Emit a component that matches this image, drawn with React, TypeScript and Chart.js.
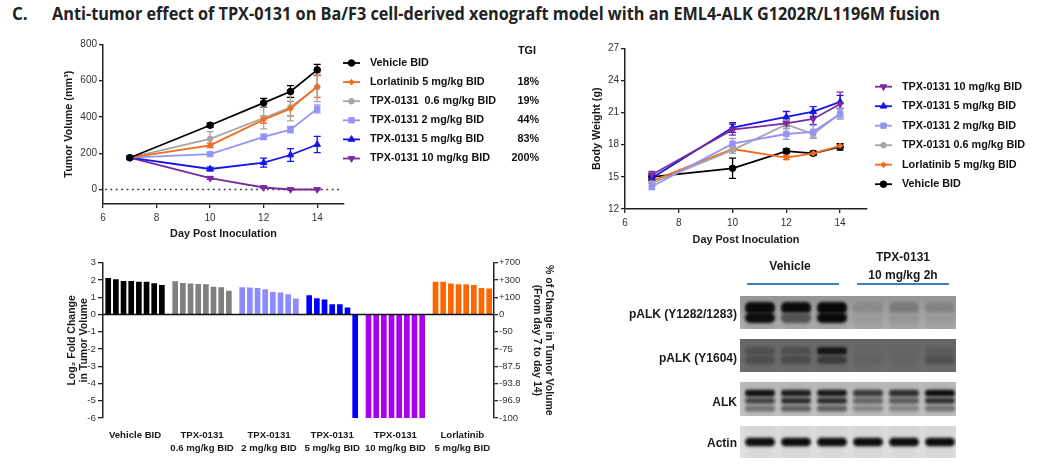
import React, { useEffect, useRef } from 'react';
import { Chart, registerables } from 'chart.js';
import { drawPoint } from 'chart.js/helpers';

Chart.register(...registerables);

const FONT = '"Liberation Sans", Arial, Helvetica, sans-serif';

// ---------- Tumor volume ----------
const DAYS = [7, 10, 12, 13, 14];
const DAY_TICKS = [6, 8, 10, 12, 14];
const TV_TICKS = [0, 200, 400, 600, 800];
const TV_LABELS = ['Vehicle BID', 'Lorlatinib 5 mg/kg BID', 'TPX-0131  0.6 mg/kg BID', 'TPX-0131 2 mg/kg BID', 'TPX-0131 5 mg/kg BID', 'TPX-0131 10 mg/kg BID'];
const TGI = ['', '18%', '19%', '44%', '83%', '200%'];
const TV_VEHICLE = [175, 354, 477, 540, 659];
const TV_VEHICLE_ERR = [8, 12, 25, 32, 30];
const TV_LORLA = [175, 243, 385, 445, 568];
const TV_LORLA_ERR = [6, 12, 20, 40, 60];
const TV_T06 = [175, 279, 394, 453, 564];
const TV_T06_ERR = [6, 40, 60, 75, 80];
const TV_T2 = [175, 195, 290, 330, 444];
const TV_T2_ERR = [6, 10, 15, 18, 22];
const TV_T5 = [175, 113, 148, 190, 248];
const TV_T5_ERR = [6, 10, 25, 35, 45];
const TV_T10 = [175, 62, 11, 0, 0];
const TV_T10_ERR = [6, 6, 4, 2, 2];

// ---------- Body weight ----------
const BW_TICKS = [12, 15, 18, 21, 24, 27];
const BW_LABELS = ['TPX-0131 10 mg/kg BID', 'TPX-0131 5 mg/kg BID', 'TPX-0131 2 mg/kg BID', 'TPX-0131 0.6 mg/kg BID', 'Lorlatinib 5 mg/kg BID', 'Vehicle BID'];
const BW_T10 = [15.2, 19.4, 20.0, 20.4, 21.8];
const BW_T10_ERR = [0.3, 0.5, 0.3, 0.5, 1.1];
const BW_T5 = [14.9, 19.6, 20.6, 21.1, 22.0];
const BW_T5_ERR = [0.3, 0.45, 0.5, 0.45, 0.6];
const BW_T2 = [14.1, 18.1, 19.0, 19.2, 20.9];
const BW_T2_ERR = [0.3, 0.5, 0.5, 0.6, 0.5];
const BW_T06 = [14.4, 17.5, 19.9, 19.0, 20.9];
const BW_T06_ERR = [0.3, 0.3, 0.4, 0.3, 0.4];
const BW_LORLA = [14.6, 17.6, 16.8, 17.2, 17.9];
const BW_LORLA_ERR = [0.2, 0.2, 0.2, 0.2, 0.2];
const BW_VEH = [15.0, 15.8, 17.4, 17.2, 17.8];
const BW_VEH_ERR = [0.3, 0.95, 0.2, 0.2, 0.3];

// ---------- Waterfall ----------
const WF_VEHICLE = [2.10, 2.02, 1.92, 1.92, 1.88, 1.87, 1.79, 1.69];
const WF_T06 = [1.90, 1.81, 1.77, 1.75, 1.73, 1.58, 1.56, 1.35];
const WF_T2 = [1.56, 1.54, 1.52, 1.44, 1.29, 1.25, 1.15, 0.90];
const WF_T5 = [1.10, 0.92, 0.85, 0.58, 0.58, 0.38, -6];
const WF_T10 = [-6, -6, -6, -6, -6, -6, -6, -6];
const WF_LORLA = [1.88, 1.87, 1.77, 1.73, 1.73, 1.69, 1.52, 1.48];
const WF_GROUP_LABELS = [['Vehicle BID'], ['TPX-0131', '0.6 mg/kg BID'], ['TPX-0131', '2 mg/kg BID'], ['TPX-0131', '5 mg/kg BID'], ['TPX-0131', '10 mg/kg BID'], ['Lorlatinib', '5 mg/kg BID']];
const WF_TICKS = [-6, -5, -4, -3, -2, -1, 0, 1, 2, 3];
const WF_RIGHT_LABELS = ['-100', '-96.9', '-93.8', '-87.5', '-75', '-50', '0', '+100', '+300', '+700'];

// ---------- Western blot ----------
const BLOT_ROWS = ['pALK (Y1282/1283)', 'pALK (Y1604)', 'ALK', 'Actin'];
const BLOT_BG = [[148, 178], [104, 112], [186, 196], [222, 228]];
const BLOT_BANDS = [
  [
    { y: 0.36, h: 0.36, dark: [0.97, 0.97, 0.98, 0.16, 0.26, 0.2] },
    { y: 0.66, h: 0.32, dark: [0.95, 0.5, 0.97, 0.06, 0.08, 0.06] },
  ],
  [
    { y: 0.36, h: 0.22, dark: [0.28, 0.3, 0.85, 0.06, 0.08, 0.16] },
    { y: 0.63, h: 0.26, dark: [0.3, 0.32, 0.45, 0.1, 0.1, 0.28] },
  ],
  [
    { y: 0.78, h: 0.18, dark: [0.42, 0.52, 0.52, 0.32, 0.32, 0.42] },
    { y: 0.55, h: 0.18, dark: [0.68, 0.8, 0.8, 0.5, 0.55, 0.78] },
    { y: 0.33, h: 0.2, dark: [0.95, 0.88, 0.9, 0.72, 0.78, 0.97] },
  ],
  [
    { y: 0.5, h: 0.27, dark: [0.97, 0.97, 0.97, 0.97, 0.97, 0.97] },
  ],
];

// ---------- styles ----------
const C_BLACK = '#000000';
const C_ORANGE = '#F46B1E';
const C_GRAY = '#A5A5A5';
const C_LBLUE = '#9494F7';
const C_BLUE = '#1414EE';
const C_PURPLE = '#7A2C9E';

type Sty = { color: string; point: string; rotation: number; radius: number };
const S_VEH: Sty = { color: C_BLACK, point: 'circle', rotation: 0, radius: 3.3 };
const S_LOR: Sty = { color: C_ORANGE, point: 'rectRot', rotation: 0, radius: 2.8 };
const S_T06: Sty = { color: C_GRAY, point: 'circle', rotation: 0, radius: 2.8 };
const S_T2: Sty = { color: C_LBLUE, point: 'rect', rotation: 0, radius: 3.8 };
const S_T5: Sty = { color: C_BLUE, point: 'triangle', rotation: 0, radius: 3.8 };
const S_T10: Sty = { color: C_PURPLE, point: 'triangle', rotation: 180, radius: 3.8 };

function lineDataset(label: string, values: number[], errors: number[], s: Sty) {
  return {
    label,
    data: DAYS.map((d, i) => ({ x: d, y: values[i] })),
    errors,
    borderColor: s.color,
    backgroundColor: s.color,
    pointBackgroundColor: s.color,
    pointBorderColor: s.color,
    pointStyle: s.point,
    pointRotation: s.rotation,
    pointRadius: s.radius,
    pointBorderWidth: 1,
    borderWidth: 1.8,
    tension: 0,
    clip: false as any,
  };
}

const errorBarPlugin = {
  id: 'errorBars',
  beforeDatasetsDraw(chart: any) {
    const ctx = chart.ctx;
    const ys = chart.scales.y;
    chart.data.datasets.forEach((ds: any, i: number) => {
      if (!ds.errors) return;
      const meta = chart.getDatasetMeta(i);
      ctx.save();
      ctx.strokeStyle = ds.borderColor;
      ctx.lineWidth = 1.3;
      meta.data.forEach((pt: any, j: number) => {
        const v = ds.data[j].y;
        const e = ds.errors[j];
        const yt = ys.getPixelForValue(v + e);
        const yb = ys.getPixelForValue(v - e);
        const x = pt.x;
        ctx.beginPath();
        ctx.moveTo(x, yt); ctx.lineTo(x, yb);
        ctx.moveTo(x - 3.5, yt); ctx.lineTo(x + 3.5, yt);
        ctx.moveTo(x - 3.5, yb); ctx.lineTo(x + 3.5, yb);
        ctx.stroke();
      });
      ctx.restore();
    });
  },
};

function legendPlugin(o: { x0: number; x1: number; textX: number; y0: number; dy: number; extra?: string[]; extraRight?: number; header?: { text: string; x: number; y: number } }) {
  return {
    id: 'customLegend',
    afterDraw(chart: any) {
      const ctx = chart.ctx;
      ctx.save();
      ctx.font = `bold 10.8px ${FONT}`;
      ctx.textBaseline = 'middle';
      chart.data.datasets.forEach((ds: any, i: number) => {
        const y = o.y0 + i * o.dy;
        ctx.strokeStyle = ds.borderColor;
        ctx.lineWidth = 1.8;
        ctx.beginPath(); ctx.moveTo(o.x0, y); ctx.lineTo(o.x1, y); ctx.stroke();
        ctx.fillStyle = ds.borderColor;
        ctx.lineWidth = 1;
        drawPoint(ctx, { pointStyle: ds.pointStyle, rotation: ds.pointRotation || 0, radius: ds.pointRadius, borderWidth: 1 } as any, (o.x0 + o.x1) / 2, y);
        ctx.fillStyle = '#111';
        ctx.textAlign = 'left';
        ctx.fillText(ds.label, o.textX, y);
        if (o.extra && o.extra[i]) {
          ctx.textAlign = 'right';
          ctx.fillText(o.extra[i], o.extraRight!, y);
        }
      });
      if (o.header) {
        ctx.textAlign = 'center';
        ctx.fillStyle = '#111';
        ctx.fillText(o.header.text, o.header.x, o.header.y);
      }
      ctx.restore();
    },
  };
}

const zeroDotted = {
  id: 'zeroDotted',
  beforeDatasetsDraw(chart: any) {
    const { ctx, chartArea, scales } = chart;
    const y0 = scales.y.getPixelForValue(0);
    ctx.save();
    ctx.setLineDash([1.8, 3.6]);
    ctx.strokeStyle = '#333';
    ctx.lineWidth = 1.6;
    ctx.beginPath(); ctx.moveTo(chartArea.left + 2, y0); ctx.lineTo(chartArea.right - 2, y0); ctx.stroke();
    ctx.restore();
  },
};

const fixedTicks = (vals: number[]) => (axis: any) => { axis.ticks = vals.map((v) => ({ value: v })); };

function axisBase(tickLen: number, pad: number, size = 10) {
  return {
    grid: { display: true, drawOnChartArea: false, drawTicks: true, tickLength: tickLen, color: '#222', lineWidth: 1.3 },
    border: { display: true, color: '#222', width: 1.5 },
    ticks: { color: '#333', font: { size, family: FONT }, padding: pad, autoSkip: false, maxRotation: 0 },
  };
}

function titleOpt(text: string | string[], padTop: number, padBottom: number, size = 10.8, lineHeight = 1.2) {
  return { display: true, text, color: '#1a1a1a', font: { size, weight: 'bold' as const, family: FONT, lineHeight }, padding: { top: padTop, bottom: padBottom } };
}

function tumorConfig(): any {
  return {
    type: 'line',
    data: {
      datasets: [
        lineDataset(TV_LABELS[0], TV_VEHICLE, TV_VEHICLE_ERR, S_VEH),
        lineDataset(TV_LABELS[1], TV_LORLA, TV_LORLA_ERR, S_LOR),
        lineDataset(TV_LABELS[2], TV_T06, TV_T06_ERR, S_T06),
        lineDataset(TV_LABELS[3], TV_T2, TV_T2_ERR, S_T2),
        lineDataset(TV_LABELS[4], TV_T5, TV_T5_ERR, S_T5),
        lineDataset(TV_LABELS[5], TV_T10, TV_T10_ERR, S_T10),
      ],
    },
    options: {
      animation: false,
      responsive: false,
      events: [],
      layout: { padding: { left: 53, right: 216, top: 14.3, bottom: 0 } },
      plugins: { legend: { display: false }, tooltip: { enabled: false } },
      scales: {
        x: {
          type: 'linear', min: 6, max: 15,
          afterBuildTicks: fixedTicks(DAY_TICKS),
          afterFit: (s: any) => { s.height = 41; },
          title: titleOpt('Day Post Inoculation', 0, 4.4),
          ...axisBase(4, 4),
        },
        y: {
          type: 'linear', min: -80, max: 800,
          afterBuildTicks: fixedTicks(TV_TICKS),
          afterFit: (s: any) => { s.width = 50; },
          title: titleOpt('Tumor Volume (mm³)', 9.4, 0),
          ...axisBase(4, 2),
        },
      },
    },
    plugins: [
      zeroDotted,
      errorBarPlugin,
      legendPlugin({ x0: 343, x1: 360, textX: 370, y0: 33, dy: 19.1, extra: TGI, extraRight: 539, header: { text: 'TGI', x: 527, y: 21.5 } }),
    ],
  };
}

function bodyConfig(): any {
  return {
    type: 'line',
    data: {
      datasets: [
        lineDataset(BW_LABELS[0], BW_T10, BW_T10_ERR, S_T10),
        lineDataset(BW_LABELS[1], BW_T5, BW_T5_ERR, S_T5),
        lineDataset(BW_LABELS[2], BW_T2, BW_T2_ERR, S_T2),
        lineDataset(BW_LABELS[3], BW_T06, BW_T06_ERR, S_T06),
        lineDataset(BW_LABELS[4], BW_LORLA, BW_LORLA_ERR, S_LOR),
        lineDataset(BW_LABELS[5], BW_VEH, BW_VEH_ERR, S_VEH),
      ],
    },
    options: {
      animation: false,
      responsive: false,
      events: [],
      layout: { padding: { left: 15, right: 178, top: 18.3, bottom: 0 } },
      plugins: { legend: { display: false }, tooltip: { enabled: false } },
      scales: {
        x: {
          type: 'linear', min: 6, max: 15,
          afterBuildTicks: fixedTicks(DAY_TICKS),
          afterFit: (s: any) => { s.height = 41; },
          title: titleOpt('Day Post Inoculation', 0, 3.4),
          ...axisBase(4, 4),
        },
        y: {
          type: 'linear', min: 12, max: 27,
          afterBuildTicks: fixedTicks(BW_TICKS),
          afterFit: (s: any) => { s.width = 40; },
          title: titleOpt('Body Weight (g)', 5.4, 0),
          ...axisBase(4, 2),
        },
      },
    },
    plugins: [
      errorBarPlugin,
      legendPlugin({ x0: 305, x1: 322, textX: 332, y0: 56.7, dy: 19.5 }),
    ],
  };
}

function waterfallConfig(): any {
  const series = [WF_VEHICLE, WF_T06, WF_T2, WF_T5, WF_T10, WF_LORLA];
  const colors = ['#000000', '#808080', '#8C8CFF', '#0000FF', '#AA00EE', '#FF6600'];
  const GROUP_GAP = 0.74;
  let cursor = 0;
  const datasets = series.map((vals, g) => {
    const data = vals.map((v, i) => ({ x: cursor + i, y: v }));
    const center = cursor + (vals.length - 1) / 2;
    cursor += vals.length + GROUP_GAP;
    return {
      label: WF_GROUP_LABELS[g].join(' '),
      groupLabel: WF_GROUP_LABELS[g],
      center,
      data,
      backgroundColor: colors[g],
      borderWidth: 0,
      barThickness: 5,
      grouped: false,
      yAxisID: 'y',
    };
  });
  const lastX = cursor - GROUP_GAP - 1;

  const wfExtras = {
    id: 'wfExtras',
    afterDatasetsDraw(chart: any) {
      const { ctx, chartArea, scales } = chart;
      const y0 = scales.y.getPixelForValue(0);
      ctx.save();
      ctx.strokeStyle = '#111';
      ctx.lineWidth = 1.5;
      ctx.beginPath(); ctx.moveTo(chartArea.left, y0); ctx.lineTo(chartArea.right, y0); ctx.stroke();
      ctx.font = `bold 9.6px ${FONT}`;
      ctx.fillStyle = '#1a1a1a';
      ctx.textAlign = 'center';
      ctx.textBaseline = 'middle';
      chart.data.datasets.forEach((ds: any) => {
        const x = scales.x.getPixelForValue(ds.center);
        ds.groupLabel.forEach((line: string, k: number) => {
          ctx.fillText(line, x, chartArea.bottom + 17 + k * 13);
        });
      });
      ctx.restore();
    },
  };

  return {
    type: 'bar',
    data: { datasets },
    options: {
      animation: false,
      responsive: false,
      events: [],
      layout: { padding: { left: 40, right: 10, top: 12.7, bottom: 56 } },
      plugins: { legend: { display: false }, tooltip: { enabled: false } },
      scales: {
        x: { type: 'linear', min: -0.68, max: lastX + 0.63, display: false, offset: false },
        y: {
          type: 'linear', position: 'left', min: -6, max: 3,
          afterBuildTicks: fixedTicks(WF_TICKS),
          afterFit: (s: any) => { s.width = 63; },
          title: titleOpt(['Log₂ Fold Change', 'in Tumor Volume'], 25.4, 0, 10.5, 1.2),
          ...axisBase(5, 2, 9.8),
        },
        y2: {
          type: 'linear', position: 'right', min: -6, max: 3,
          afterBuildTicks: fixedTicks(WF_TICKS),
          afterFit: (s: any) => { s.width = 66; },
          title: titleOpt(['% of Change in Tumor Volume', '(From day 7 to day 14)'], 4.7, 0, 10.5, 1.2),
          ...axisBase(4, 1, 9.5),
          ticks: { color: '#333', font: { size: 9.5, family: FONT }, padding: 1, autoSkip: false, callback: (_v: any, i: number) => WF_RIGHT_LABELS[i] },
        },
      },
    },
    plugins: [wfExtras],
  };
}

function drawBlot(canvas: HTMLCanvasElement) {
  const ctx = canvas.getContext('2d')!;
  const PX = 140, PW = 216;
  const TOPS = [46, 89, 132, 176];
  const HS = [33, 33, 34, 32];
  const LANE0 = 20, LANE_STEP = 36, LANE_W = 30;

  // group lines
  ctx.strokeStyle = '#3C7DC4';
  ctx.lineWidth = 2;
  ctx.beginPath();
  ctx.moveTo(147, 34); ctx.lineTo(239, 34);
  ctx.moveTo(257, 34); ctx.lineTo(349, 34);
  ctx.stroke();

  BLOT_ROWS.forEach((_name, r) => {
    const top = TOPS[r], h = HS[r];
    const [b0, b1] = BLOT_BG[r];
    ctx.save();
    ctx.beginPath(); ctx.rect(PX, top, PW, h); ctx.clip();
    const grad = ctx.createLinearGradient(0, top, 0, top + h);
    grad.addColorStop(0, `rgb(${b0},${b0},${b0})`);
    grad.addColorStop(1, `rgb(${b1},${b1},${b1})`);
    ctx.fillStyle = grad;
    ctx.fillRect(PX, top, PW, h);
    // lane smear
    ctx.filter = 'blur(3px)';
    for (let l = 0; l < 6; l++) {
      const cx = PX + LANE0 + l * LANE_STEP;
      const v = Math.round(((b0 + b1) / 2) * 0.93);
      ctx.fillStyle = `rgba(${v},${v},${v},0.6)`;
      ctx.fillRect(cx - LANE_W / 2, top - 4, LANE_W, h + 8);
    }
    ctx.filter = 'blur(1.6px)';
    BLOT_BANDS[r].forEach((band) => {
      band.dark.forEach((d, l) => {
        const cx = PX + LANE0 + l * LANE_STEP;
        const cy = top + band.y * h;
        const bh = band.h * h;
        const base = (b0 + b1) / 2;
        const v = Math.round(base * (1 - d * 0.97));
        ctx.fillStyle = `rgb(${v},${v},${v})`;
        ctx.beginPath();
        (ctx as any).roundRect(cx - LANE_W / 2, cy - bh / 2, LANE_W, bh, Math.min(bh / 2, 5));
        ctx.fill();
      });
    });
    ctx.restore();
  });
}

const textStyle: React.CSSProperties = {
  position: 'absolute',
  fontFamily: FONT,
  fontWeight: 'bold',
  fontSize: 12,
  lineHeight: '14px',
  color: '#1a1a1a',
  whiteSpace: 'nowrap',
};

function Txt({ x, y, align, children }: { x: number; y: number; align: 'left' | 'center' | 'right'; children: React.ReactNode }) {
  const tx = align === 'left' ? '0' : align === 'center' ? '-50%' : '-100%';
  return <div style={{ ...textStyle, left: x, top: y - 7, transform: `translateX(${tx})` }}>{children}</div>;
}

const BLOT_LABEL_Y = [314, 358, 401.5, 443];

export default function App() {
  const tvRef = useRef<HTMLCanvasElement>(null);
  const bwRef = useRef<HTMLCanvasElement>(null);
  const wfRef = useRef<HTMLCanvasElement>(null);
  const blotRef = useRef<HTMLCanvasElement>(null);

  useEffect(() => {
    const charts: Chart[] = [];
    charts.push(new Chart(tvRef.current!, tumorConfig()));
    charts.push(new Chart(bwRef.current!, bodyConfig()));
    charts.push(new Chart(wfRef.current!, waterfallConfig()));
    drawBlot(blotRef.current!);
    return () => charts.forEach((c) => c.destroy());
  }, []);

  return (
    <div style={{ position: 'absolute', left: 0, top: 0, width: 1045, height: 474, background: '#fff', overflow: 'hidden' }}>
      <svg width={1045} height={30} style={{ position: 'absolute', left: 0, top: 0 }}>
        <text x={12} y={19.5} fontFamily='"Open Sans", "Liberation Sans", Arial, sans-serif' fontWeight="bold" fontSize={17} fill="#222">C.</text>
        <text x={52} y={19.5} fontFamily='"Open Sans", "Liberation Sans", Arial, sans-serif' fontWeight="bold" fontSize={17} fill="#222" textLength={888} lengthAdjust="spacingAndGlyphs">
          Anti-tumor effect of TPX-0131 on Ba/F3 cell-derived xenograft model with an EML4-ALK G1202R/L1196M fusion
        </text>
      </svg>
      <canvas ref={tvRef} width={560} height={215} style={{ position: 'absolute', left: 0, top: 30 }} />
      <canvas ref={bwRef} width={475} height={220} style={{ position: 'absolute', left: 570, top: 30 }} />
      <canvas ref={wfRef} width={570} height={224} style={{ position: 'absolute', left: 0, top: 250 }} />
      <canvas ref={blotRef} width={445} height={224} style={{ position: 'absolute', left: 600, top: 250 }} />
      <Txt x={790} y={266} align="center">Vehicle</Txt>
      <Txt x={903} y={257} align="center">TPX-0131</Txt>
      <Txt x={903} y={275} align="center">10 mg/kg 2h</Txt>
      {BLOT_ROWS.map((name, i) => (
        <Txt key={name} x={737} y={BLOT_LABEL_Y[i]} align="right">{name}</Txt>
      ))}
    </div>
  );
}
